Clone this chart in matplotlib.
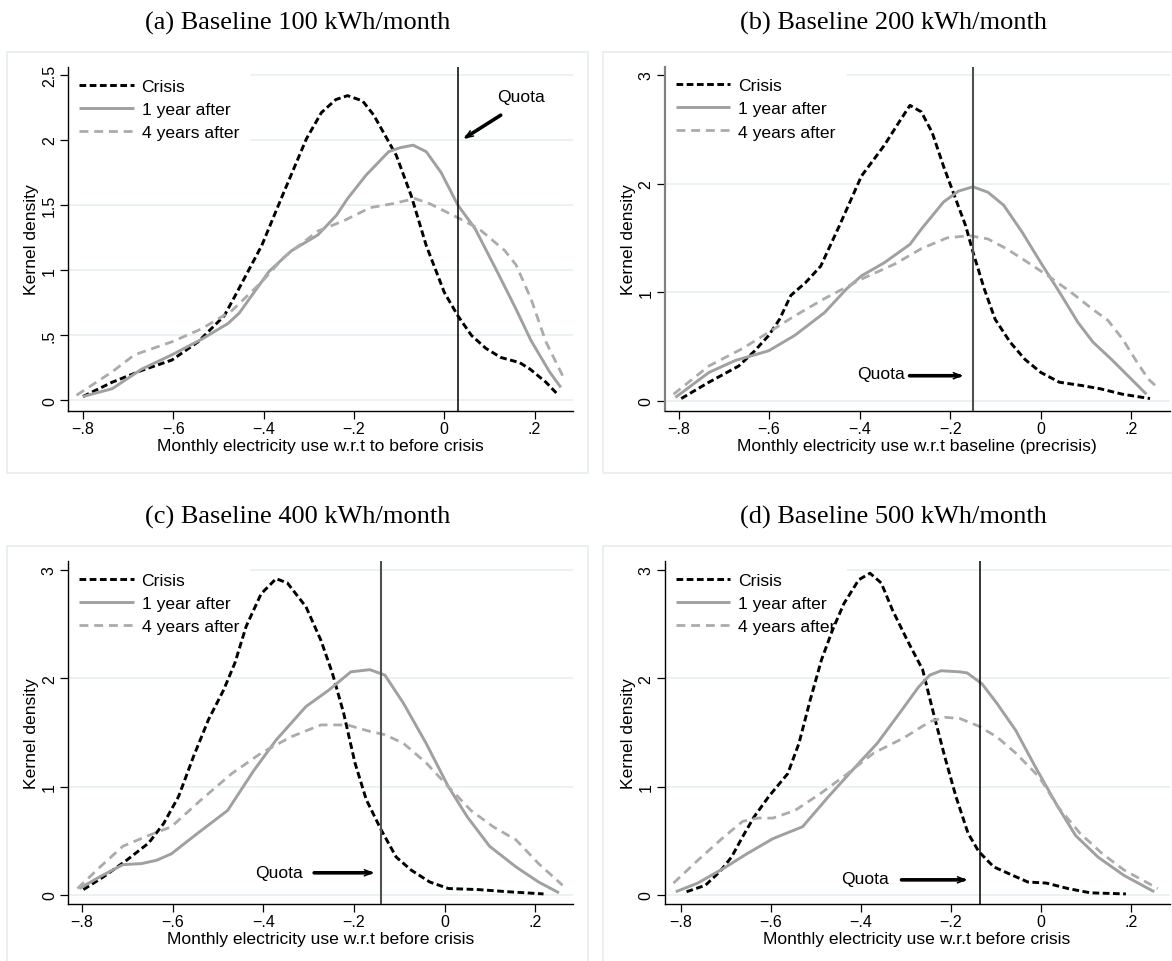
import matplotlib
matplotlib.use("Agg")
import matplotlib.pyplot as plt
from matplotlib.patches import Rectangle

# ---------------- data ----------------
titles = ["(a) Baseline 100 kWh/month", "(b) Baseline 200 kWh/month",
          "(c) Baseline 400 kWh/month", "(d) Baseline 500 kWh/month"]
xlabels = ["Monthly electricity use w.r.t to before crisis",
           "Monthly electricity use w.r.t baseline (precrisis)",
           "Monthly electricity use w.r.t before crisis",
           "Monthly electricity use w.r.t before crisis"]
ylabel = "Kernel density"
series_names = ["Crisis", "1 year after", "4 years after"]
quota_label = "Quota"

xticks = [-0.8, -0.6, -0.4, -0.2, 0.0, 0.2]
xticklabels = ["\u2212.8", "\u2212.6", "\u2212.4", "\u2212.2", "0", ".2"]
yticks_a = [0, 0.5, 1, 1.5, 2, 2.5]
yticklabels_a = ["0", ".5", "1", "1.5", "2", "2.5"]
yticks_bcd = [0, 1, 2, 3]
yticklabels_bcd = ["0", "1", "2", "3"]

# quota (vertical line) positions
quota_x = [0.03, -0.15, -0.14, -0.135]

# panel (a)
a_crisis_x = [-0.80, -0.735, -0.67, -0.603, -0.545, -0.487, -0.462, -0.404, -0.355, -0.305, -0.272,
              -0.24, -0.214, -0.181, -0.156, -0.106, -0.073, -0.04, 0.0, 0.03, 0.06, 0.092, 0.125,
              0.167, 0.19, 0.225, 0.25]
a_crisis_y = [0.03, 0.14, 0.23, 0.31, 0.45, 0.65, 0.81, 1.19, 1.60, 2.01, 2.21, 2.31, 2.34, 2.30,
              2.19, 1.88, 1.57, 1.19, 0.83, 0.65, 0.50, 0.40, 0.33, 0.29, 0.24, 0.14, 0.05]
a_year1_x = [-0.80, -0.735, -0.67, -0.603, -0.537, -0.479, -0.454, -0.388, -0.338, -0.28, -0.239,
             -0.214, -0.173, -0.123, -0.098, -0.069, -0.04, -0.007, 0.03, 0.068, 0.117, 0.159,
             0.192, 0.233, 0.258]
a_year1_y = [0.03, 0.09, 0.24, 0.35, 0.47, 0.59, 0.67, 0.99, 1.15, 1.27, 1.42, 1.55, 1.73, 1.91,
             1.94, 1.96, 1.91, 1.75, 1.50, 1.32, 0.99, 0.70, 0.46, 0.22, 0.10]
a_year4_x = [-0.814, -0.735, -0.686, -0.603, -0.537, -0.47, -0.404, -0.355, -0.28, -0.222, -0.164,
             -0.115, -0.065, -0.032, 0.026, 0.076, 0.134, 0.159, 0.192, 0.225, 0.262]
a_year4_y = [0.04, 0.22, 0.35, 0.45, 0.55, 0.69, 0.91, 1.10, 1.30, 1.38, 1.48, 1.51, 1.55, 1.51,
             1.41, 1.32, 1.15, 1.04, 0.78, 0.45, 0.19]

# panel (b)
b_crisis_x = [-0.794, -0.733, -0.667, -0.634, -0.601, -0.577, -0.552, -0.519, -0.486, -0.445,
              -0.412, -0.396, -0.346, -0.314, -0.289, -0.264, -0.24, -0.215, -0.191, -0.166,
              -0.15, -0.125, -0.101, -0.068, -0.035, 0.0, 0.041, 0.09, 0.131, 0.18, 0.241]
b_crisis_y = [0.02, 0.17, 0.32, 0.45, 0.60, 0.75, 0.97, 1.09, 1.24, 1.61, 1.92, 2.07, 2.35, 2.56,
              2.72, 2.66, 2.47, 2.16, 1.89, 1.61, 1.37, 1.03, 0.75, 0.54, 0.38, 0.26, 0.17, 0.14,
              0.11, 0.06, 0.02]
b_year1_x = [-0.807, -0.733, -0.675, -0.601, -0.544, -0.478, -0.429, -0.396, -0.346, -0.289,
             -0.264, -0.215, -0.182, -0.15, -0.117, -0.082, -0.041, 0.0, 0.041, 0.082, 0.115,
             0.156, 0.197, 0.233]
b_year1_y = [0.03, 0.26, 0.37, 0.46, 0.60, 0.81, 1.03, 1.15, 1.27, 1.44, 1.58, 1.83, 1.93, 1.97,
             1.92, 1.80, 1.55, 1.27, 1.00, 0.72, 0.54, 0.38, 0.21, 0.06]
b_year4_x = [-0.811, -0.733, -0.659, -0.601, -0.544, -0.478, -0.396, -0.322, -0.264, -0.207,
             -0.158, -0.117, -0.076, -0.035, 0.016, 0.066, 0.115, 0.148, 0.18, 0.213, 0.237, 0.258]
b_year4_y = [0.06, 0.32, 0.48, 0.63, 0.78, 0.94, 1.12, 1.26, 1.40, 1.50, 1.52, 1.49, 1.40, 1.29,
             1.15, 1.00, 0.84, 0.74, 0.57, 0.35, 0.20, 0.12]

# panel (c)
c_crisis_x = [-0.797, -0.752, -0.702, -0.653, -0.62, -0.587, -0.554, -0.521, -0.488, -0.463,
              -0.438, -0.405, -0.372, -0.347, -0.306, -0.273, -0.248, -0.223, -0.198, -0.173,
              -0.14, -0.107, -0.074, -0.033, 0.008, 0.074, 0.14, 0.218]
c_crisis_y = [0.05, 0.17, 0.32, 0.48, 0.66, 0.91, 1.28, 1.62, 1.89, 2.14, 2.48, 2.78, 2.92, 2.88,
              2.66, 2.35, 2.05, 1.68, 1.22, 0.88, 0.60, 0.35, 0.23, 0.12, 0.06, 0.05, 0.03, 0.01]
c_year1_x = [-0.806, -0.76, -0.71, -0.669, -0.636, -0.603, -0.545, -0.479, -0.421, -0.372, -0.306,
             -0.256, -0.207, -0.165, -0.132, -0.091, -0.041, 0.008, 0.05, 0.099, 0.157, 0.207, 0.252]
c_year1_y = [0.06, 0.17, 0.28, 0.29, 0.32, 0.38, 0.57, 0.78, 1.15, 1.43, 1.74, 1.89, 2.06, 2.08,
             2.03, 1.77, 1.40, 1.00, 0.72, 0.45, 0.26, 0.12, 0.02]
c_year4_x = [-0.81, -0.76, -0.71, -0.653, -0.603, -0.537, -0.47, -0.405, -0.339, -0.273, -0.215,
             -0.165, -0.132, -0.091, -0.041, 0.008, 0.058, 0.107, 0.157, 0.207, 0.26]
c_year4_y = [0.06, 0.26, 0.45, 0.55, 0.63, 0.88, 1.12, 1.31, 1.46, 1.57, 1.57, 1.51, 1.48, 1.40,
             1.22, 1.00, 0.78, 0.63, 0.51, 0.29, 0.09]

# panel (d)
d_crisis_x = [-0.788, -0.746, -0.713, -0.688, -0.663, -0.638, -0.605, -0.563, -0.538, -0.513,
              -0.488, -0.463, -0.438, -0.405, -0.38, -0.355, -0.33, -0.297, -0.263, -0.239,
              -0.214, -0.189, -0.162, -0.138, -0.105, -0.062, -0.029, 0.012, 0.06, 0.11, 0.189]
d_crisis_y = [0.03, 0.09, 0.22, 0.35, 0.54, 0.72, 0.91, 1.12, 1.40, 1.80, 2.17, 2.45, 2.69, 2.91,
              2.97, 2.88, 2.63, 2.35, 2.08, 1.68, 1.28, 0.91, 0.57, 0.40, 0.26, 0.18, 0.12, 0.11,
              0.06, 0.02, 0.01]
d_year1_x = [-0.812, -0.763, -0.704, -0.654, -0.596, -0.53, -0.472, -0.413, -0.364, -0.314, -0.272,
             -0.247, -0.222, -0.181, -0.164, -0.131, -0.098, -0.056, -0.012, 0.037, 0.077, 0.127,
             0.185, 0.252]
d_year1_y = [0.03, 0.11, 0.25, 0.38, 0.52, 0.63, 0.91, 1.18, 1.40, 1.68, 1.92, 2.03, 2.07, 2.06,
             2.05, 1.95, 1.77, 1.52, 1.18, 0.82, 0.55, 0.35, 0.18, 0.03]
d_year4_x = [-0.817, -0.763, -0.704, -0.663, -0.63, -0.596, -0.547, -0.489, -0.43, -0.372, -0.305,
             -0.247, -0.214, -0.181, -0.139, -0.098, -0.056, -0.004, 0.037, 0.087, 0.137, 0.185, 0.26]
d_year4_y = [0.11, 0.32, 0.54, 0.68, 0.71, 0.71, 0.78, 0.94, 1.12, 1.31, 1.45, 1.60, 1.64, 1.63,
             1.56, 1.46, 1.31, 1.09, 0.82, 0.57, 0.38, 0.23, 0.06]

# quota annotation: (text x, text y, arrow start x, arrow start y, arrow end x, arrow end y)
quota_a = (0.169, 2.33, 0.125, 2.19, 0.043, 2.01)
quota_b = (-0.30, 0.255, -0.29, 0.23, -0.172, 0.23)
quota_c = (-0.313, 0.205, -0.288, 0.205, -0.156, 0.205)
quota_d = (-0.337, 0.154, -0.310, 0.14, -0.164, 0.14)

# ---------------- style ----------------
SANS = ["Liberation Sans", "DejaVu Sans"]
SERIF = ["Liberation Serif", "DejaVu Serif"]
plt.rcParams["font.family"] = SANS
FS = 12.6
TICK_FS = 11.5
GRID = "#E9F1F2"
FRAME = "#E6EEF0"

fig = plt.figure(figsize=(11.72, 9.62), dpi=100)
W, H = 1172.0, 962.0

def fx(px):
    return px / W

def fy(py):
    return 1 - py / H

# panel frames (pixels: left, top, right, bottom)
frames = [(7, 53, 588, 474), (603, 53, 1184, 474), (7, 547, 588, 968), (603, 547, 1184, 968)]
for (l, t, r, b) in frames:
    fig.patches.append(Rectangle((fx(l), fy(b)), fx(r - l), (b - t) / H, transform=fig.transFigure,
                                 fill=False, edgecolor=FRAME, lw=1.2, zorder=0))

# axes rectangles in pixels: left, top, right, bottom
axes_px = [(68, 68, 573, 411.7), (664.5, 67.7, 1169.5, 411.7), (68, 562, 573, 905), (664.5, 562, 1169.5, 905)]
xlims = [(-0.833, 0.285), (-0.831, 0.284), (-0.831, 0.283), (-0.837, 0.286)]
ylims = [(-0.079, 2.56), (-0.092, 3.076), (-0.083, 3.083), (-0.083, 3.083)]
title_y = [23.5, 23.5, 517.7, 517.7]

data = [
    [(a_crisis_x, a_crisis_y), (a_year1_x, a_year1_y), (a_year4_x, a_year4_y)],
    [(b_crisis_x, b_crisis_y), (b_year1_x, b_year1_y), (b_year4_x, b_year4_y)],
    [(c_crisis_x, c_crisis_y), (c_year1_x, c_year1_y), (c_year4_x, c_year4_y)],
    [(d_crisis_x, d_crisis_y), (d_year1_x, d_year1_y), (d_year4_x, d_year4_y)],
]
quotas = [quota_a, quota_b, quota_c, quota_d]
vline_colors = ["black", "#505050", "#505050", "black"]
vline_widths = [1.1, 1.5, 1.5, 1.1]
left_spine_colors = ["black", "#808080", "black", "black"]
styles = [
    dict(color="black", lw=2.1, dashes=(2.3, 1.2)),
    dict(color="#A0A0A0", lw=2.1),
    dict(color="#ABABAB", lw=2.0, dashes=(3.2, 2.1)),
]

for i in range(4):
    l, t, r, b = axes_px[i]
    ax = fig.add_axes([fx(l), fy(b), (r - l) / W, (b - t) / H])
    ax.set_facecolor("white")
    for s in ["top", "right"]:
        ax.spines[s].set_visible(False)
    ax.spines["bottom"].set_linewidth(1.0)
    ax.spines["bottom"].set_color("black")
    ax.spines["left"].set_color(left_spine_colors[i])
    ax.spines["left"].set_linewidth(1.0 if left_spine_colors[i] == "black" else 1.6)
    ax.set_axisbelow(True)
    ax.yaxis.grid(True, color=GRID, lw=1.3)
    ax.xaxis.grid(False)

    for k, (xs, ys) in enumerate(data[i]):
        ax.plot(xs, ys, label=series_names[k], zorder=3, solid_capstyle="butt",
                dash_capstyle="butt", solid_joinstyle="round", dash_joinstyle="round",
                **styles[k])

    ax.axvline(quota_x[i], color=vline_colors[i], lw=vline_widths[i], zorder=4)

    tx, ty, sx, sy, ex, ey = quotas[i]
    if i == 0:
        ax.text(tx, ty, quota_label, ha="center", va="center", fontsize=FS, zorder=5)
    else:
        ax.text(tx, ty, quota_label, ha="right", va="center", fontsize=FS, zorder=5)
    # thick shaft
    ax.annotate("", xy=(ex, ey), xytext=(sx, sy),
                arrowprops=dict(arrowstyle="-", lw=2.6, color="black",
                                shrinkA=0, shrinkB=2.5), zorder=5)
    # thin open head
    ax.annotate("", xy=(ex, ey), xytext=(sx, sy),
                arrowprops=dict(arrowstyle="->,head_length=0.55,head_width=0.22", lw=1.1,
                                color="black", shrinkA=0, shrinkB=0), zorder=5)

    ax.set_xlim(*xlims[i])
    ax.set_ylim(*ylims[i])
    ax.set_xticks(xticks)
    ax.set_xticklabels(xticklabels)
    if i == 0:
        ax.set_yticks(yticks_a)
        ax.set_yticklabels(yticklabels_a)
    else:
        ax.set_yticks(yticks_bcd)
        ax.set_yticklabels(yticklabels_bcd)
    ax.tick_params(axis="both", direction="out", length=5.5, width=0.9, labelsize=TICK_FS, pad=2.0)
    ax.tick_params(axis="y", labelrotation=90, pad=2.5)
    for lab in ax.get_yticklabels():
        lab.set_va("center")

    ax.set_xlabel(xlabels[i], fontsize=FS, labelpad=1.5)
    ax.set_ylabel(ylabel, fontsize=FS, labelpad=2)

    leg = ax.legend(loc="upper left", frameon=True, facecolor="white", edgecolor="none",
                    framealpha=1.0, fancybox=False, borderaxespad=0.0, borderpad=0.65,
                    handlelength=3.1, handletextpad=0.45, labelspacing=0.45, fontsize=FS)
    leg.set_zorder(2)

    cx = (frames[i][0] + min(frames[i][2], 1184)) / 2.0
    fig.text(fx(cx), fy(title_y[i]), titles[i], ha="center", va="center",
             fontsize=19, family=SERIF)

fig.savefig("out.png", dpi=100, facecolor="white")
